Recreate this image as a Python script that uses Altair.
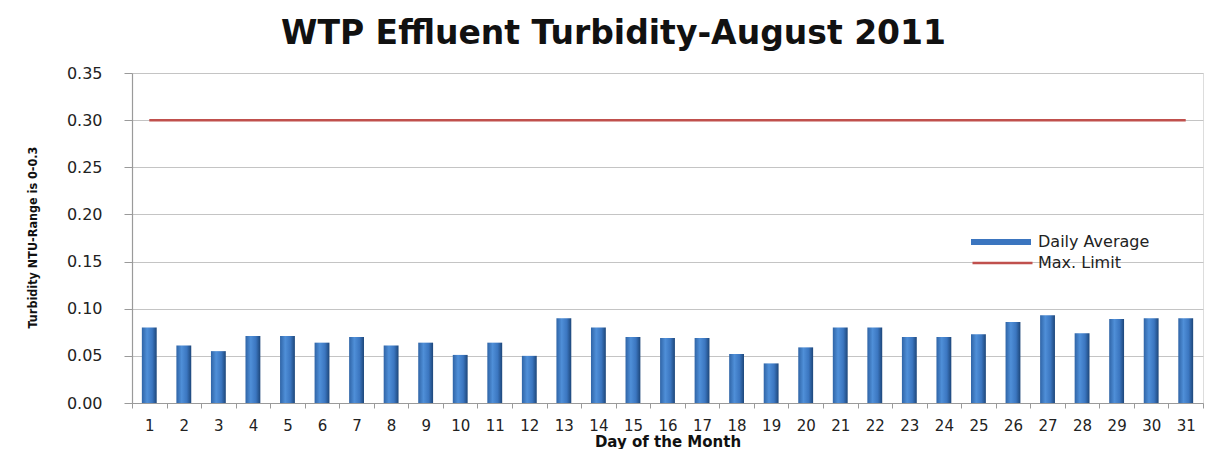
import altair as alt
import pandas as pd

days = list(range(1, 32))
daily_average = [0.080, 0.061, 0.055, 0.071, 0.071, 0.064, 0.070, 0.061, 0.064, 0.051,
                 0.064, 0.050, 0.090, 0.080, 0.070, 0.069, 0.069, 0.052, 0.042, 0.059,
                 0.080, 0.080, 0.070, 0.070, 0.073, 0.086, 0.093, 0.074, 0.089, 0.090, 0.090]
max_limit = [0.30, 0.30, 0.30, 0.30, 0.30, 0.30, 0.30, 0.30, 0.30, 0.30,
             0.30, 0.30, 0.30, 0.30, 0.30, 0.30, 0.30, 0.30, 0.30, 0.30,
             0.30, 0.30, 0.30, 0.30, 0.30, 0.30, 0.30, 0.30, 0.30, 0.30, 0.30]
series_names = ["Daily Average", "Max. Limit"]
y_ticks = [0.00, 0.05, 0.10, 0.15, 0.20, 0.25, 0.30, 0.35]

BLUE = "#3b75bf"
RED = "#c0504d"
LABEL_FONT = "DejaVu Sans"

bars_df = pd.DataFrame({"day": days, "value": daily_average, "series": series_names[0]})
line_df = pd.DataFrame({"day": days, "value": max_limit, "series": series_names[1]})

x_scale = alt.Scale(type="band", paddingInner=0, paddingOuter=0)
y_scale = alt.Scale(domain=[0, 0.35], nice=False, zero=True)

x_axis = alt.Axis(
    title="Day of the Month", labelAngle=0, tickBand="extent", grid=False,
    labelFont=LABEL_FONT, labelFontSize=15, labelColor="#222222", labelPadding=10,
    tickSize=5, tickColor="#9a9a9a", domainColor="#9a9a9a", domainWidth=1.2,
    titleFont=LABEL_FONT, titleFontSize=15, titleFontWeight="bold", titleColor="#111111",
    titleY=43, titleBaseline="alphabetic",
)
y_axis = alt.Axis(
    title="Turbidity NTU-Range is 0-0.3", values=y_ticks, format=".2f",
    labelFont=LABEL_FONT, labelFontSize=16, labelColor="#222222", labelPadding=22,
    tickSize=8, tickColor="#9a9a9a", domainColor="#9a9a9a", domainWidth=1.2,
    gridColor="#c4c4c4", gridWidth=1,
    titleFont="Liberation Sans Narrow, DejaVu Sans Condensed, sans-serif",
    titleFontSize=12.5, titleFontWeight="bold", titleColor="#111111",
    titleAngle=270, titleX=-100, titleY=164, titleAlign="center", titleBaseline="middle",
)

bar_gradient = alt.Gradient(
    gradient="linear", x1=0, x2=1, y1=0, y2=0,
    stops=[
        alt.GradientStop(color="#2f64a6", offset=0),
        alt.GradientStop(color="#4f8fd8", offset=0.35),
        alt.GradientStop(color="#3b76c0", offset=0.7),
        alt.GradientStop(color="#1d4679", offset=1),
    ],
)

bars = alt.Chart(bars_df).mark_bar(
    color=bar_gradient, width=alt.RelativeBandSize(0.43)
).encode(
    x=alt.X("day:O", scale=x_scale, axis=x_axis),
    y=alt.Y("value:Q", scale=y_scale, axis=y_axis),
)

# legend entry for the bars, from an empty helper layer
bar_legend_layer = alt.Chart(bars_df).transform_filter("false").mark_point(filled=True).encode(
    x=alt.X("day:O", scale=x_scale),
    y=alt.Y("value:Q", scale=y_scale),
    fill=alt.Fill(
        "series:N",
        scale=alt.Scale(domain=[series_names[0]], range=[BLUE]),
        legend=alt.Legend(
            title=None, orient="none", legendX=839, legendY=159, direction="vertical",
            padding=0, clipHeight=20,
            symbolType="M-1,-0.1L1,-0.1L1,0.1L-1,0.1Z", symbolSize=3600,
            symbolOpacity=1, symbolStrokeWidth=0,
            labelFont=LABEL_FONT, labelFontSize=16, labelColor="#222222", labelOffset=7,
        ),
    ),
)

line = alt.Chart(line_df).mark_line(strokeWidth=2.5).encode(
    x=alt.X("day:O", scale=x_scale),
    y=alt.Y("value:Q", scale=y_scale),
    color=alt.Color(
        "series:N",
        scale=alt.Scale(domain=[series_names[1]], range=[RED]),
        legend=alt.Legend(
            title=None, orient="none", legendX=839, legendY=180, direction="vertical",
            padding=0, clipHeight=20,
            symbolType="stroke", symbolSize=3600, symbolStrokeWidth=2.5,
            labelFont=LABEL_FONT, labelFontSize=16, labelColor="#222222", labelOffset=4,
        ),
    ),
)

chart = alt.layer(bars, line, bar_legend_layer).resolve_legend(
    color="independent", fill="independent"
).properties(
    width=1071, height=330,
    padding={"left": 124, "top": 65, "right": 4, "bottom": 46},
    autosize=alt.AutoSizeParams(type="none"),
    title=alt.TitleParams(
        text="WTP Effluent Turbidity-August 2011",
        font=LABEL_FONT, fontSize=33, fontWeight="bold", color="#111111",
        anchor="middle", dx=-54, dy=34, offset=22, baseline="alphabetic",
    ),
).configure_view(stroke="transparent").configure(background="white")

chart.save("out.html", embed_options={"renderer": "svg", "actions": False})
